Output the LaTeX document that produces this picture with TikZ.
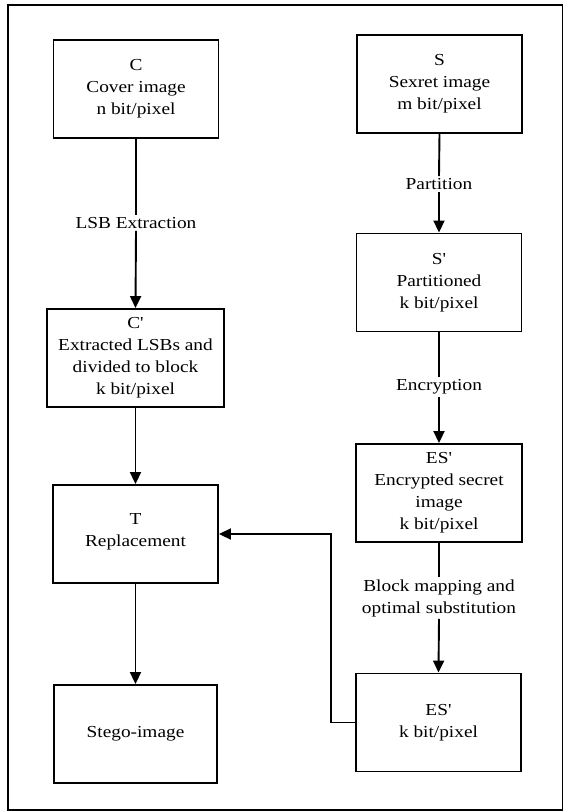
\documentclass[tikz,border=0pt]{standalone}
\usepackage{fontspec}
\setmainfont{Liberation Serif}[FakeStretch=1.15, Ligatures=TeXOff]
\usetikzlibrary{arrows.meta}

\begin{document}
\begin{tikzpicture}[x=1pt,y=-1pt,
  txt/.style={font=\fontsize{16.8}{22}\selectfont, align=center},
  stepbox/.style={txt, draw, line width=1.9pt, minimum width=165pt, minimum height=98pt, inner sep=2pt},
  lbl/.style={txt, fill=white, inner sep=2pt},
  arr/.style={line width=1.9pt, -{Triangle[length=12pt,width=11pt]}},
  ln/.style={line width=1.9pt}]
  \useasboundingbox (0,0) rectangle (565,812);
  % outer frame
  \draw[line width=1.5pt] (8,5) rectangle (562.5,810);

  % left column
  \node[stepbox] (c)  at (136,89)    {C\\Cover image\\n bit/pixel};
  \node[stepbox, minimum width=177pt] (cp) at (135.5,358) {C'\\Extracted LSBs and\\divided to block\\k bit/pixel};
  \node[stepbox, text depth=8pt] (t)  at (135.5,534) {T\\Replacement};
  \node[stepbox, minimum width=163pt] (sg) at (135.5,734) {Stego-image};

  % right column
  \node[stepbox] (s)   at (439.5,84)  {S\\Sexret image\\m bit/pixel};
  \node[stepbox] (sp)  at (439,282.5) {S'\\Partitioned\\k bit/pixel};
  \node[stepbox, minimum width=166pt] (es)  at (439,493) {ES'\\Encrypted secret\\image\\k bit/pixel};
  \node[stepbox] (es2) at (438.5,722.5) {ES'\\k bit/pixel};

  % labels on the connectors
  \node[lbl] (l1) at (136,223) {LSB Extraction};
  \node[lbl] (l2) at (439,184) {Partition};
  \node[lbl] (l3) at (439,387) {Encryption};
  \node[lbl] (l4) at (439,598) {Block mapping and\\optimal substitution};

  % connectors
  \draw[ln]  (c.south) -- (l1.north);
  \draw[arr] (l1.south) -- (cp.north);
  \draw[arr] (cp.south) -- (t.north);
  \draw[arr] (t.south) -- (sg.north);

  \draw[ln]  (s.south) -- (l2.north);
  \draw[arr] (l2.south) -- (sp.north);
  \draw[ln]  (sp.south) -- (l3.north);
  \draw[arr] (l3.south) -- (es.north);
  \draw[ln]  (es.south) -- (l4.north);
  \draw[arr] (l4.south) -- (es2.north);

  % feedback into the replacement step
  \draw[arr] (es2.west) -- ++(-24,0) |- (t.east);
\end{tikzpicture}
\end{document}
